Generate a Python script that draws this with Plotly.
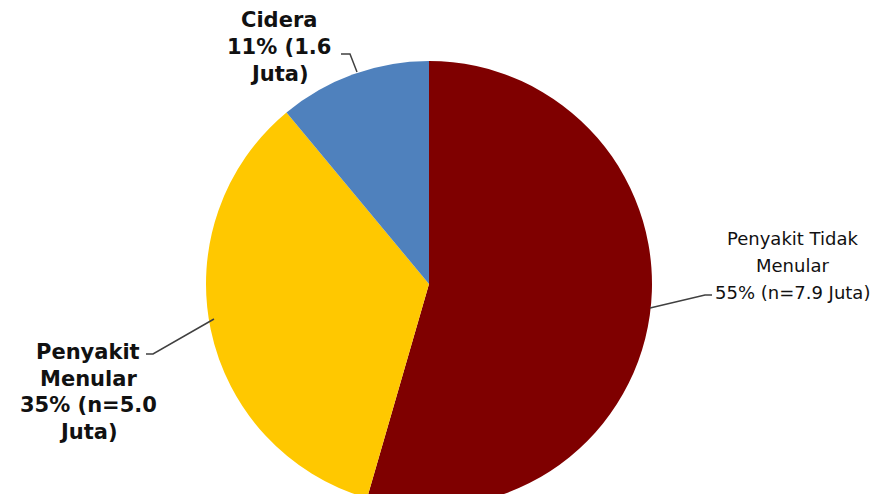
import plotly.graph_objects as go

# ---- data ----
categories = ["Penyakit Tidak Menular", "Penyakit Menular", "Cidera"]
values_juta = [7.9, 5.0, 1.6]
percents = [55, 35, 11]
colors = ["#7F0000", "#FFC800", "#4F81BD"]
label_lines = [
    ["Penyakit Tidak", "Menular", "55% (n=7.9 Juta)"],
    ["Penyakit", "Menular", "35% (n=5.0", "Juta)"],
    ["Cidera", "11% (1.6", "Juta)"],
]

W, H = 889, 530

def px(x):
    return x / W

def py(y):
    return 1 - y / H

fig = go.Figure(go.Pie(
    labels=categories,
    values=values_juta,
    marker=dict(colors=colors, line=dict(width=0)),
    sort=False,
    direction="clockwise",
    rotation=0,
    textinfo="none",
    showlegend=False,
    domain=dict(x=[px(206), px(652)], y=[py(507), py(61)]),
))

annotations = []
# label layout: (center x, first line y, line step, bold, size)
label_pos = [
    (792, 238, 27, False, 18),
    (88, 352, 26.5, True, 21),
    (279, 20, 27, True, 21),
]
for lines, (cx, y0, step, bold, size) in zip(label_lines, label_pos):
    for i, t in enumerate(lines):
        annotations.append(dict(
            text=f"<b>{t}</b>" if bold else t,
            x=px(cx), y=py(y0 + i * step), xref="paper", yref="paper",
            xanchor="center", yanchor="middle", showarrow=False,
            font=dict(family="DejaVu Sans", size=size, color="#111111"),
        ))

leaders = [
    [(650, 308), (705, 295), (712, 295)],
    [(146, 354), (153, 354), (214, 319)],
    [(341, 54), (350, 54), (357, 72)],
]
shapes = []
for pts in leaders:
    path = "M " + " L ".join(f"{px(x)},{py(y)}" for x, y in pts)
    shapes.append(dict(type="path", path=path, xref="paper", yref="paper",
                       line=dict(color="#404040", width=1.5)))

fig.update_layout(
    width=W, height=H,
    margin=dict(l=0, r=0, t=0, b=0),
    paper_bgcolor="white", plot_bgcolor="white",
    annotations=annotations, shapes=shapes,
)

fig.write_html("out.html", config={"displayModeBar": False},
               post_script="document.body.style.margin='0';document.body.style.overflow='hidden';")
